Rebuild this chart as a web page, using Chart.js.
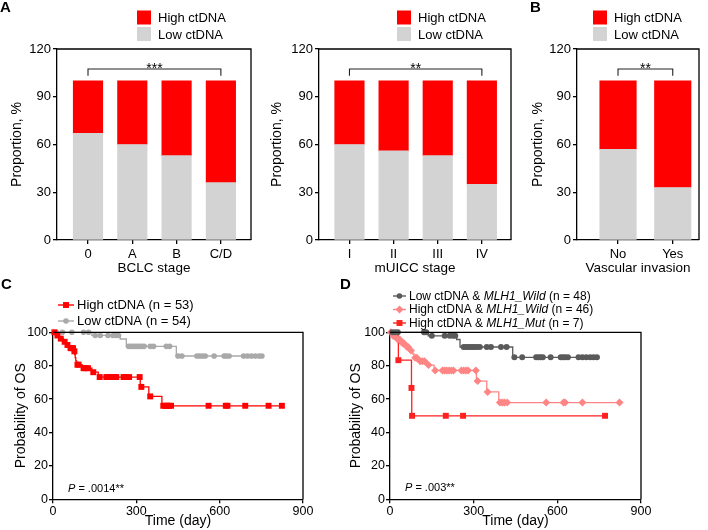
<!DOCTYPE html>
<html><head><meta charset="utf-8">
<script src="https://cdn.jsdelivr.net/npm/chart.js@4/dist/chart.umd.min.js"></script>
<style>
html,body{margin:0;padding:0;background:#fff;}
#wrap{position:relative;width:708px;height:530px;overflow:hidden;font-family:'Liberation Sans',Arial,Helvetica,sans-serif;}
canvas{position:absolute;}
.lt{position:absolute;font-weight:bold;font-size:15px;line-height:15px;color:#000;}
</style></head><body>
<div id="wrap">
<canvas id="cA" width="258" height="280" style="left:0;top:0;width:258px;height:280px"></canvas>
<canvas id="cM" width="258" height="280" style="left:262px;top:0;width:258px;height:280px"></canvas>
<canvas id="cB" width="188" height="280" style="left:520px;top:0;width:188px;height:280px"></canvas>
<canvas id="cC" width="336" height="260" style="left:0;top:270px;width:336px;height:260px"></canvas>
<canvas id="cD" width="372" height="260" style="left:336px;top:270px;width:372px;height:260px"></canvas>
<div class="lt" style="left:0;top:-1px">A</div>
<div class="lt" style="left:530px;top:-1px">B</div>
<div class="lt" style="left:1px;top:276px">C</div>
<div class="lt" style="left:340px;top:276px">D</div>
</div>
<script>
// ---------------- DATA ----------------
const seriesLabels = ['Low ctDNA', 'High ctDNA'];
const proportionTicks = [0, 30, 60, 90, 120];

const bclcStages = ['0', 'A', 'B', 'C/D'];
const bclcLow  = [67, 60, 53, 36];
const bclcHigh = [33, 40, 47, 64];

const muiccStages = ['I', 'II', 'III', 'IV'];
const muiccLow  = [60, 56, 53, 35];
const muiccHigh = [40, 44, 47, 65];

const vascGroups = ['No', 'Yes'];
const vascLow  = [57, 33];
const vascHigh = [43, 67];

const kmTimeTicks = [0, 300, 600, 900];
const kmProbTicks = [0, 20, 40, 60, 80, 100];

// Panel C: High ctDNA (n = 53)
const cHighT = [0, 10, 22, 38, 48, 58, 76, 78, 80, 82, 85, 105, 140, 163, 314, 345, 392, 824];
const cHighS = [100, 98.1, 96.2, 94.3, 92.4, 90.5, 88.6, 86.7, 84.8, 82.9, 80.6, 78.5, 76.1, 73.2, 67.3, 61.6, 56.0, 56.0];
const cHighCensT = [5, 16, 28, 42, 52, 63, 68, 72, 77, 88, 92, 110, 118, 126, 145, 168, 192, 199, 206, 213, 220, 228, 254, 262, 274, 312, 318, 350, 397, 404, 411, 418, 425, 560, 622, 628, 692, 776, 824];
const cHighCensS = [100, 98.1, 96.2, 94.3, 92.4, 90.5, 90.5, 90.5, 88.6, 80.6, 80.6, 78.5, 78.5, 78.5, 76.1, 73.2, 73.2, 73.2, 73.2, 73.2, 73.2, 73.2, 73.2, 73.2, 73.2, 73.2, 67.3, 61.6, 56, 56, 56, 56, 56, 56, 56, 56, 56, 56, 56];
// Panel C: Low ctDNA (n = 54)
const cLowT = [0, 140, 242, 264, 444, 752];
const cLowS = [100, 98.1, 96.0, 91.6, 85.8, 85.8];
const cLowCensT = [12, 34, 68, 110, 128, 152, 170, 198, 216, 228, 236, 272, 280, 288, 296, 304, 312, 320, 328, 350, 362, 408, 420, 450, 464, 518, 528, 538, 548, 580, 616, 624, 634, 686, 700, 714, 728, 742, 752];
const cLowCensS = [100, 100, 100, 100, 100, 98.1, 98.1, 98.1, 98.1, 98.1, 98.1, 91.6, 91.6, 91.6, 91.6, 91.6, 91.6, 91.6, 91.6, 91.6, 91.6, 91.6, 91.6, 85.8, 85.8, 85.8, 85.8, 85.8, 85.8, 85.8, 85.8, 85.8, 85.8, 85.8, 85.8, 85.8, 85.8, 85.8, 85.8];

// Panel D: Low ctDNA & MLH1_Wild (n = 48)
const dLowT = [0, 137, 239, 251, 440, 742];
const dLowS = [100, 97.9, 95.7, 91.2, 85.0, 85.0];
const dLowCensT = [8, 18, 28, 122, 130, 150, 196, 214, 226, 234, 264, 272, 280, 288, 296, 304, 312, 322, 347, 362, 398, 418, 446, 474, 524, 532, 540, 548, 576, 612, 620, 628, 638, 676, 690, 704, 718, 730, 742];
const dLowCensS = [100, 100, 100, 100, 100, 97.9, 97.9, 97.9, 97.9, 97.9, 91.2, 91.2, 91.2, 91.2, 91.2, 91.2, 91.2, 91.2, 91.2, 91.2, 91.2, 91.2, 85, 85, 85, 85, 85, 85, 85, 85, 85, 85, 85, 85, 85, 85, 85, 85, 85];
// Panel D: High ctDNA & MLH1_Wild (n = 46)
const dWildT = [0, 8, 22, 40, 55, 70, 82, 86, 104, 133, 158, 310, 347, 390, 823];
const dWildS = [100, 97.8, 95.7, 93.5, 91.3, 89.1, 87.0, 84.8, 82.6, 80.4, 77.2, 70.8, 64.3, 57.9, 57.9];
const dWildCensT = [3, 12, 18, 28, 35, 45, 50, 60, 64, 75, 90, 96, 108, 116, 124, 138, 162, 188, 196, 204, 212, 220, 228, 256, 264, 272, 280, 308, 314, 350, 394, 402, 410, 420, 560, 622, 628, 690, 823];
const dWildCensS = [100, 97.8, 97.8, 95.7, 95.7, 93.5, 93.5, 91.3, 91.3, 89.1, 84.8, 84.8, 82.6, 82.6, 82.6, 80.4, 77.2, 77.2, 77.2, 77.2, 77.2, 77.2, 77.2, 77.2, 77.2, 77.2, 77.2, 77.2, 70.8, 64.3, 57.9, 57.9, 57.9, 57.9, 57.9, 57.9, 57.9, 57.9, 57.9];
// Panel D: High ctDNA & MLH1_Mut (n = 7)
const dMutT = [0, 30, 77, 78, 771];
const dMutS = [100, 83.3, 66.7, 50.0, 50.0];
const dMutCensT = [30, 77, 79, 200, 262, 771];
const dMutCensS = [83.3, 66.7, 50, 50, 50, 50];

const pTextC = ['P', ' = .0014**'];
const pTextD = ['P', ' = .003**'];

// ---------------- STYLE / HELPERS ----------------
const FONT = "'Liberation Sans', Arial, Helvetica, sans-serif";
Chart.defaults.font.family = FONT;
Chart.defaults.color = '#000';
const RED = '#ff0000', LGRAY = '#d3d3d3';

const framePlugin = {
  id: 'frame',
  afterDraw(chart) {
    const {ctx, chartArea: a} = chart;
    ctx.save(); ctx.strokeStyle = '#000'; ctx.lineWidth = 1.3;
    ctx.beginPath(); ctx.moveTo(a.left, a.top); ctx.lineTo(a.right, a.top); ctx.lineTo(a.right, a.bottom); ctx.stroke();
    ctx.restore();
  }
};
function makeBracket(b) {
  return { id: 'bracket', afterDatasetsDraw(chart) {
    const {ctx, scales: {x, y}} = chart;
    const x1 = x.getPixelForValue(b.from), x2 = x.getPixelForValue(b.to);
    const yt = y.getPixelForValue(b.y), yb = y.getPixelForValue(b.y - b.tip);
    ctx.save(); ctx.strokeStyle = '#222'; ctx.lineWidth = 1.1;
    ctx.beginPath(); ctx.moveTo(x1, yb); ctx.lineTo(x1, yt); ctx.lineTo(x2, yt); ctx.lineTo(x2, yb); ctx.stroke();
    ctx.fillStyle = '#000'; ctx.font = '14px ' + FONT; ctx.textAlign = 'center'; ctx.textBaseline = 'alphabetic';
    ctx.fillText(b.label, (x1 + x2) / 2, yt + 4);
    ctx.restore();
  }};
}
function makeBoxLegend(L) {
  return { id: 'boxLegend', afterDraw(chart) {
    const ctx = chart.ctx; const ds = chart.data.datasets.slice().reverse();
    ctx.save(); ctx.font = '13px ' + FONT; ctx.textBaseline = 'middle'; ctx.textAlign = 'left';
    ds.forEach((d, i) => {
      const y = L.y + i * L.gap;
      ctx.fillStyle = d.backgroundColor; ctx.fillRect(L.x, y - L.size / 2, L.size, L.size);
      ctx.fillStyle = '#000'; ctx.fillText(d.label, L.x + L.size + L.pad, y + 1);
    });
    ctx.restore();
  }};
}
function makeKmLegend(L) {
  return { id: 'kmLegend', afterDraw(chart) {
    const ctx = chart.ctx;
    L.items.forEach((it, i) => {
      const y = L.y + i * L.gap;
      ctx.save();
      ctx.strokeStyle = it.color; ctx.lineWidth = 1.4;
      ctx.beginPath(); ctx.moveTo(L.x0, y); ctx.lineTo(L.x1, y); ctx.stroke();
      ctx.fillStyle = it.color;
      Chart.helpers.drawPoint(ctx, {pointStyle: it.style, radius: it.r, rotation: 0, borderWidth: 0}, (L.x0 + L.x1) / 2, y);
      let x = L.tx; ctx.fillStyle = '#000'; ctx.textBaseline = 'middle'; ctx.textAlign = 'left';
      it.parts.forEach(([t, ital]) => {
        ctx.font = (ital ? 'italic ' : '') + L.fs + 'px ' + FONT;
        ctx.fillText(t, x, y + 0.5); x += ctx.measureText(t).width;
      });
      ctx.restore();
    });
  }};
}
function makePText(P) {
  return { id: 'ptext', afterDraw(chart) {
    const ctx = chart.ctx; const a = chart.chartArea;
    let x = a.left + P.dx; const y = a.bottom - P.dy;
    ctx.save(); ctx.fillStyle = '#000'; ctx.textBaseline = 'middle'; ctx.textAlign = 'left';
    P.parts.forEach((t, i) => {
      ctx.font = (i === 0 ? 'italic ' : '') + '11px ' + FONT;
      ctx.fillText(t, x, y); x += ctx.measureText(t).width;
    });
    ctx.restore();
  }};
}
const gridOpt = {drawOnChartArea: false, drawTicks: true, tickLength: 4, color: '#000', lineWidth: 1.3, offset: false};
const borderOpt = {display: true, color: '#000', width: 1.3};

function makeBarChart(id, cats, low, high, L) {
  const pts = a => a.map((v, i) => ({x: i, y: v}));
  return new Chart(document.getElementById(id), {
    type: 'bar',
    data: {datasets: [
      {label: seriesLabels[0], data: pts(low), backgroundColor: LGRAY, barThickness: L.bw, stack: 's'},
      {label: seriesLabels[1], data: pts(high), backgroundColor: RED, barThickness: L.bw, stack: 's'}
    ]},
    options: {
      responsive: false, animation: false, events: [],
      layout: {padding: {left: 0, top: L.top, right: L.right, bottom: 0}},
      plugins: {legend: {display: false}, tooltip: {enabled: false}},
      scales: {
        x: {type: 'linear', stacked: true, min: L.xmin, max: L.xmax, offset: false,
          afterBuildTicks: s => { s.ticks = cats.map((c, i) => ({value: i})); },
          afterFit: s => { s.height = L.xh; },
          ticks: {callback: v => cats[v], font: {size: 13}, color: '#000', padding: 3, maxRotation: 0, autoSkip: false},
          grid: gridOpt, border: borderOpt,
          title: {display: true, text: L.xtitle, font: {size: 13.5}, color: '#000', padding: {top: 0, bottom: 4}}},
        y: {type: 'linear', stacked: true, min: 0, max: 120,
          afterBuildTicks: s => { s.ticks = proportionTicks.map(v => ({value: v})); },
          afterFit: s => { s.width = L.yw; },
          ticks: {font: {size: 13}, color: '#000', padding: 2},
          grid: gridOpt, border: borderOpt,
          title: {display: true, text: 'Proportion, %', font: {size: 14}, color: '#000', padding: {top: L.ytp, bottom: 0}}}
      }
    },
    plugins: [framePlugin, makeBracket(L.bracket), makeBoxLegend(L.legend)]
  });
}

function makeKmChart(id, series, L) {
  const datasets = [];
  series.forEach(s => datasets.push({type: 'line', data: s.t.map((t, i) => ({x: t, y: s.s[i]})),
    borderColor: s.color, borderWidth: 1.3, pointRadius: 0, stepped: true, fill: false, clip: false, order: 2}));
  series.forEach(s => datasets.push({type: 'scatter', data: s.ct.map((t, i) => ({x: t, y: s.cs[i]})),
    backgroundColor: s.color, borderWidth: 0, pointStyle: s.style, pointRadius: s.r, clip: false, order: 1, showLine: false}));
  return new Chart(document.getElementById(id), {
    type: 'scatter',
    data: {datasets},
    options: {
      responsive: false, animation: false, events: [],
      layout: {padding: {left: 0, top: L.top, right: L.right, bottom: 0}},
      plugins: {legend: {display: false}, tooltip: {enabled: false}},
      scales: {
        x: {type: 'linear', min: 0, max: 900,
          afterBuildTicks: s => { s.ticks = kmTimeTicks.map(v => ({value: v})); },
          afterFit: s => { s.height = L.xh; },
          ticks: {font: {size: 12.5}, color: '#000', padding: 1, maxRotation: 0},
          grid: gridOpt, border: borderOpt,
          title: {display: true, text: 'Time (day)', font: {size: 14}, color: '#000', padding: {top: 0, bottom: 0}}},
        y: {type: 'linear', min: 0, max: 100,
          afterBuildTicks: s => { s.ticks = kmProbTicks.map(v => ({value: v})); },
          afterFit: s => { s.width = L.yw; },
          ticks: {font: {size: 12.5}, color: '#000', padding: 1},
          grid: gridOpt, border: borderOpt,
          title: {display: true, text: 'Probability of OS', font: {size: 14}, color: '#000', padding: {top: L.ytp, bottom: 0}}}
      }
    },
    plugins: [framePlugin, makeKmLegend(L.legend), makePText(L.p)]
  });
}

// ---------------- CHARTS ----------------
makeBarChart('cA', bclcStages, bclcLow, bclcHigh, {
  bw: 29.5, top: 49, right: 7, xh: 40, yw: 57, xmin: -0.70, xmax: 3.68, ytp: 9, xtitle: 'BCLC stage',
  bracket: {from: 0, to: 3, y: 107.4, tip: 4.2, label: '***'},
  legend: {x: 137, y: 17.5, gap: 16.5, size: 14, pad: 7}
});
makeBarChart('cM', muiccStages, muiccLow, muiccHigh, {
  bw: 29.5, top: 49, right: 9, xh: 40, yw: 57, xmin: -0.69, xmax: 3.66, ytp: 7, xtitle: 'mUICC stage',
  bracket: {from: 0, to: 3, y: 107.4, tip: 4.2, label: '**'},
  legend: {x: 135, y: 17.5, gap: 16.5, size: 14, pad: 7}
});
makeBarChart('cB', vascGroups, vascLow, vascHigh, {
  bw: 36.5, top: 49, right: 9, xh: 40, yw: 57, xmin: -0.75, xmax: 1.48, ytp: 10, xtitle: 'Vascular invasion',
  bracket: {from: 0, to: 1, y: 107.4, tip: 4.2, label: '**'},
  legend: {x: 73, y: 17.5, gap: 16.5, size: 14, pad: 7}
});

makeKmChart('cC', [
  {t: cHighT, s: cHighS, ct: cHighCensT, cs: cHighCensS, color: '#ff0000', style: 'rect', r: 4.2},
  {t: cLowT, s: cLowS, ct: cLowCensT, cs: cLowCensS, color: '#a9a9a9', style: 'circle', r: 2.8}
], {
  top: 62.3, right: 33, xh: 30.7, yw: 53, ytp: 12.5,
  legend: {x0: 58, x1: 74, tx: 77, y: 35, gap: 16, fs: 13, items: [
    {color: '#ff0000', style: 'rect', r: 4.2, parts: [['High ctDNA (n = 53)', false]]},
    {color: '#a9a9a9', style: 'circle', r: 2.8, parts: [['Low ctDNA (n = 54)', false]]}
  ]},
  p: {dx: 15, dy: 10, parts: pTextC}
});
makeKmChart('cD', [
  {t: dLowT, s: dLowS, ct: dLowCensT, cs: dLowCensS, color: '#5a5a5a', style: 'circle', r: 3},
  {t: dWildT, s: dWildS, ct: dWildCensT, cs: dWildCensS, color: '#ff8585', style: 'rectRot', r: 4},
  {t: dMutT, s: dMutS, ct: dMutCensT, cs: dMutCensS, color: '#ff2020', style: 'rect', r: 4.2}
], {
  top: 62.3, right: 67, xh: 30.7, yw: 54, ytp: 11.5,
  legend: {x0: 57, x1: 70, tx: 73, y: 26, gap: 13.5, fs: 12, items: [
    {color: '#5a5a5a', style: 'circle', r: 2.8, parts: [['Low ctDNA & ', false], ['MLH1_Wild', true], [' (n = 48)', false]]},
    {color: '#ff8585', style: 'rectRot', r: 4, parts: [['High ctDNA & ', false], ['MLH1_Wild', true], [' (n = 46)', false]]},
    {color: '#ff2020', style: 'rect', r: 4.2, parts: [['High ctDNA & ', false], ['MLH1_Mut', true], [' (n = 7)', false]]}
  ]},
  p: {dx: 15, dy: 11, parts: pTextD}
});
</script>
</body></html>
